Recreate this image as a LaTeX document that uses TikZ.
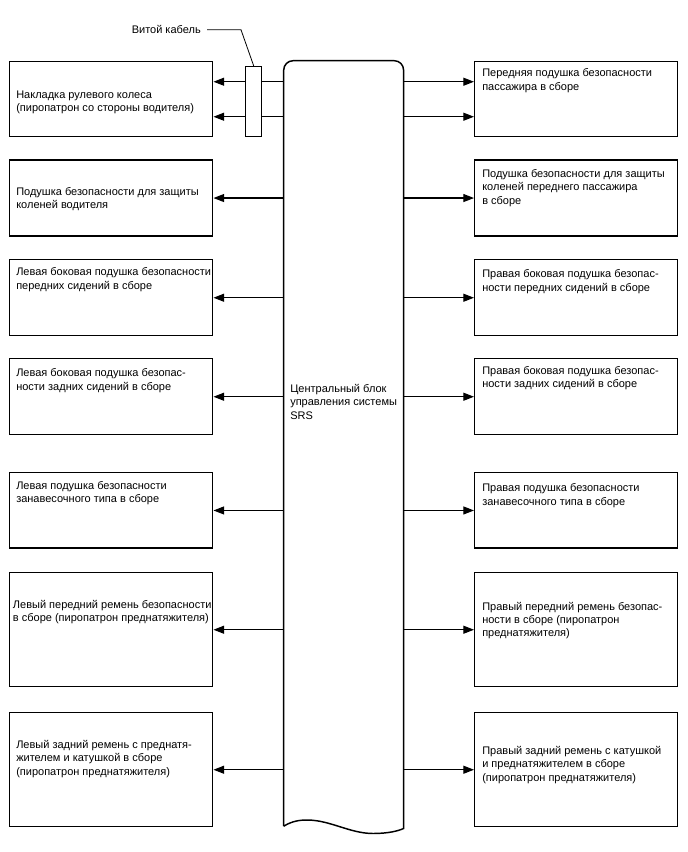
\documentclass[tikz,border=0pt]{standalone}
\usepackage{fontspec}
\setmainfont{Liberation Sans}
\usetikzlibrary{arrows.meta,calc}
\begin{document}
\begin{tikzpicture}[x=0.75pt,y=-0.75pt,
  box/.style={draw,line width=1.1pt,minimum width=152.25pt,inner sep=0pt,anchor=north west},
  txt/.style={font=\fontsize{8.25}{10}\selectfont,align=left,inner sep=0pt,anchor=north west},
  arr/.style={line width=0.85pt,-{Triangle[length=8pt,width=6pt]}},
  leader/.style={line width=0.6pt}]
\useasboundingbox (0,0) rectangle (688,852);
% left boxes
\node[box,minimum height=56.25pt] (L1) at (9,61) {};
\node[box,minimum height=57pt] (L2) at (9,159.3) {};
\node[box,minimum height=57pt] (L3) at (9,259) {};
\node[box,minimum height=57pt] (L4) at (9,358) {};
\node[box,minimum height=56.6pt] (L5) at (9,472) {};
\node[box,minimum height=85.5pt] (L6) at (9,572) {};
\node[box,minimum height=85.5pt] (L7) at (9,712) {};
% right boxes
\node[box,minimum height=56.25pt] (R1) at (474,61) {};
\node[box,minimum height=57pt] (R2) at (474,159.3) {};
\node[box,minimum height=57pt] (R3) at (474,259) {};
\node[box,minimum height=57pt] (R4) at (474,358) {};
\node[box,minimum height=56.6pt] (R5) at (474,472) {};
\node[box,minimum height=85.5pt] (R6) at (474,572) {};
\node[box,minimum height=85.5pt] (R7) at (474,712) {};
% central block
\node[inner sep=0pt,minimum width=89.5pt,minimum height=573.75pt,anchor=north west] (cbu) at (283.7,60.7) {};
\draw[line width=1.1pt] (cbu.south west) [rounded corners=7pt] -- (cbu.north west) -- (cbu.north east) -- (cbu.east) [sharp corners] -- ([yshift=-1.7pt]cbu.south east)
  .. controls (398,831) and (388,833.5) .. (373,833.5)
  .. controls (350,833.5) and (330,820) .. (307,820)
  .. controls (300,820) and (292,821) .. (cbu.south west);
\node[txt] (ct) at (290,382.9) {\strut Центральный блок\\управления системы\\SRS};
% texts
\node[txt] (L1t) at (16,88.9) {\strut Накладка рулевого колеса\\(пиропатрон со стороны водителя)};
\node[txt] (L2t) at (16,185.6) {\strut Подушка безопасности для защиты\\коленей водителя};
\node[txt] (L3t) at (16,266.2) {\strut Левая боковая подушка безопасности\\передних сидений в сборе};
\node[txt] (L4t) at (16,367.2) {\strut Левая боковая подушка безопас-\\ности задних сидений в сборе};
\node[txt] (L5t) at (16,479.6) {\strut Левая подушка безопасности\\занавесочного типа в сборе};
\node[txt] (L6t) at (12.7,598.9) {\strut Левый передний ремень безопасности\\в сборе (пиропатрон преднатяжителя)};
\node[txt] (L7t) at (16,738.9) {\strut Левый задний ремень с преднатя-\\жителем и катушкой в сборе\\(пиропатрон преднатяжителя)};
\node[txt] (R1t) at (482,67.2) {\strut Передняя подушка безопасности\\пассажира в сборе};
\node[txt] (R2t) at (482,167.9) {\strut Подушка безопасности для защиты\\коленей переднего пассажира\\в сборе};
\node[txt] (R3t) at (482,268.2) {\strut Правая боковая подушка безопас-\\ности передних сидений в сборе};
\node[txt] (R4t) at (482,364.9) {\strut Правая боковая подушка безопас-\\ности задних сидений в сборе};
\node[txt] (R5t) at (482,482.2) {\strut Правая подушка безопасности\\занавесочного типа в сборе};
\node[txt] (R6t) at (482,600.6) {\strut Правый передний ремень безопас-\\ности в сборе (пиропатрон\\преднатяжителя)};
\node[txt] (R7t) at (482,744.9) {\strut Правый задний ремень с катушкой\\и преднатяжителем в сборе\\(пиропатрон преднатяжителя)};
% arrows
\coordinate (a1) at ([yshift=13.125pt]L1.east);
\coordinate (a2) at ([yshift=-13.125pt]L1.east);
\draw[arr] (a1 -| cbu.west) -- (a1);
\draw[arr] (a2 -| cbu.west) -- (a2);
\draw[arr] (a1 -| cbu.east) -- (a1 -| R1.west);
\draw[arr] (a2 -| cbu.east) -- (a2 -| R1.west);
\foreach \i in {2,...,7}{
  \draw[arr] (L\i.east -| cbu.west) -- (L\i.east);
  \draw[arr] (R\i.west -| cbu.east) -- (R\i.west);
}
% twisted cable
\node[draw,fill=white,line width=1.1pt,minimum width=12pt,minimum height=52.5pt,inner sep=0pt,anchor=north west] (cab) at (245,66) {};
\node[font=\fontsize{8.25}{10}\selectfont,anchor=base east,inner sep=0pt] (lab) at (201,33.3) {Витой кабель};
\draw[leader] ([xshift=4.5pt]lab.mid east) -- ++(34,0) -- (cab.north);
\end{tikzpicture}
\end{document}
